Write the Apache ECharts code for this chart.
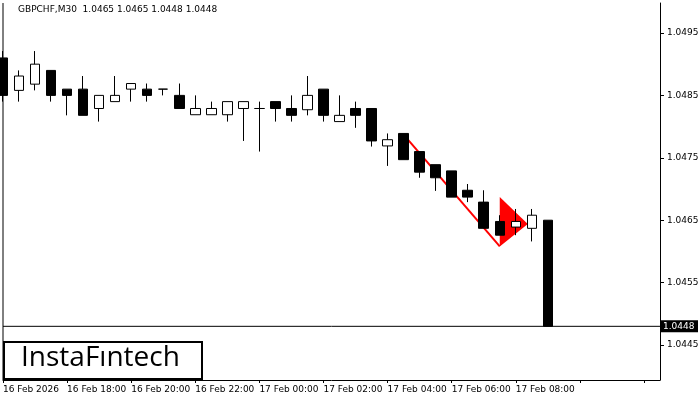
<!DOCTYPE html><html><head><meta charset="utf-8">
<script src="https://cdn.jsdelivr.net/npm/echarts@6/dist/echarts.min.js"></script>
<style>html,body{margin:0;padding:0;background:#fff}#c{width:700px;height:400px}</style></head>
<body><div id="c"></div><script>
const times=[];
(function(){const days=['16 Feb','17 Feb'];for(let i=0;i<42;i++){const m=16*60+i*30;const d=Math.floor(m/1440);const mm=m%1440;const h=String(Math.floor(mm/60)).padStart(2,'0');const mi=String(mm%60).padStart(2,'0');times.push(days[d]+' '+h+':'+mi);}})();
const opens =[1.04910,1.04858,1.04868,1.04890,1.04860,1.04860,1.04829,1.04840,1.04860,1.04860,1.04860,1.04850,1.04819,1.04819,1.04819,1.04829,1.04829,1.04840,1.04829,1.04827,1.04860,1.04808,1.04829,1.04829,1.04769,1.04789,1.04760,1.04739,1.04729,1.04698,1.04679,1.04648,1.04639,1.04637,1.0465];
const closes=[1.04850,1.04881,1.04900,1.04850,1.04850,1.04818,1.04850,1.04850,1.04869,1.04850,1.04860,1.04829,1.04829,1.04829,1.04840,1.04840,1.04829,1.04829,1.04818,1.04850,1.04818,1.04818,1.04818,1.04777,1.04779,1.04747,1.04727,1.04718,1.04687,1.04687,1.04637,1.04626,1.04648,1.04658,1.0448];
const lows  =[1.04840,1.04840,1.04858,1.04840,1.04818,1.04818,1.04808,1.04840,1.04840,1.04840,1.04850,1.04829,1.04819,1.04819,1.04808,1.04777,1.04760,1.04808,1.04808,1.04818,1.04808,1.04808,1.04798,1.04768,1.04737,1.04747,1.04718,1.04697,1.04687,1.04679,1.04637,1.04626,1.04626,1.04616,1.0448];
const highs =[1.04921,1.04890,1.04921,1.04890,1.04860,1.04881,1.04850,1.04881,1.04869,1.04869,1.04860,1.04869,1.04850,1.04840,1.04840,1.04840,1.04840,1.04840,1.04850,1.04881,1.04860,1.04850,1.04840,1.04829,1.04789,1.04789,1.04760,1.04739,1.04729,1.04708,1.04698,1.04658,1.04668,1.04668,1.0465];
const yTicks=[1.0445,1.0455,1.0465,1.0475,1.0485,1.0495];
const trendLine=[[25,1.04787],[31,1.04608]];
const pennant=[[31,1.04687],[32.75,1.04644],[31,1.04608]];
const lastPrice=1.0448;
const title='GBPCHF,M30  1.0465 1.0465 1.0448 1.0448';
const ohlc=opens.map((o,i)=>[o,closes[i],lows[i],highs[i]]);
const chart=echarts.init(document.getElementById('c'));
function px(api,p){const a=api.coord([Math.floor(p[0]),p[1]]);const b=api.coord([Math.floor(p[0])+1,p[1]]);const f=p[0]-Math.floor(p[0]);return [a[0]+(b[0]-a[0])*f,a[1]];}
chart.setOption({animation:false,
grid:{left:3,right:40,top:3,bottom:20,outerBoundsMode:'none',containLabel:false},
xAxis:{type:'category',data:times,boundaryGap:false,axisLine:{lineStyle:{color:'#000'}},axisTick:{show:true,interval:3,lineStyle:{color:'#000'},length:3},
 axisLabel:{interval:3,align:'left',fontSize:9,fontFamily:'DejaVu Sans',color:'#000',margin:5,formatter:(v,i)=>i===0?'16 Feb 2026':(i>34?'':v)},splitLine:{show:false}},
yAxis:{type:'value',position:'right',min:1.04394,max:1.04998,scale:true,axisLine:{show:true,lineStyle:{color:'#000'}},
 axisTick:{show:true,customValues:yTicks,length:4,lineStyle:{color:'#000'}},
 axisLabel:{customValues:yTicks,fontSize:9,fontFamily:'DejaVu Sans',color:'#000',margin:7,formatter:v=>v.toFixed(4)},splitLine:{show:false}},
series:[
{type:'candlestick',z:4,data:ohlc,barWidth:10,itemStyle:{color:'#fff',color0:'#000',borderColor:'#000',borderColor0:'#000',borderWidth:1}},
{type:'custom',data:[0],z:2,clip:false,renderItem:(params,api)=>{
 const l=trendLine.map(p=>px(api,p));const t=pennant.map(p=>px(api,p));
 const cs=params.coordSys;const yp=api.coord([0,lastPrice])[1];
 return {type:'group',children:[
  {type:'line',shape:{x1:cs.x,y1:yp,x2:cs.x+cs.width,y2:yp},style:{stroke:'#000',lineWidth:1}},
  {type:'rect',shape:{x:cs.x+cs.width,y:yp-6,width:38,height:12},style:{fill:'#000'}},
  {type:'text',x:cs.x+cs.width+3,y:yp,style:{text:lastPrice.toFixed(4),fill:'#fff',fontSize:9,fontFamily:'DejaVu Sans',verticalAlign:'middle'}},
  {type:'polygon',shape:{points:t},style:{fill:'#ff0000'}},
  {type:'line',shape:{x1:l[0][0],y1:l[0][1],x2:l[1][0],y2:l[1][1]},style:{stroke:'#ff0000',lineWidth:2}}]};}}
],
graphic:[
{type:'line',shape:{x1:3,y1:3,x2:3,y2:380},style:{stroke:'#000',lineWidth:1}},
{type:'text',left:18,top:5,style:{text:title,fontSize:9,fontFamily:'DejaVu Sans',fill:'#000'}},
{type:'rect',left:3,top:341,shape:{width:198,height:37},style:{fill:'#fff',stroke:'#000',lineWidth:2}},
{type:'text',left:21,top:344,style:{text:'InstaFıntech',fontSize:28,fontFamily:'Open Sans',fill:'#000'}}
]});
</script></body></html>
